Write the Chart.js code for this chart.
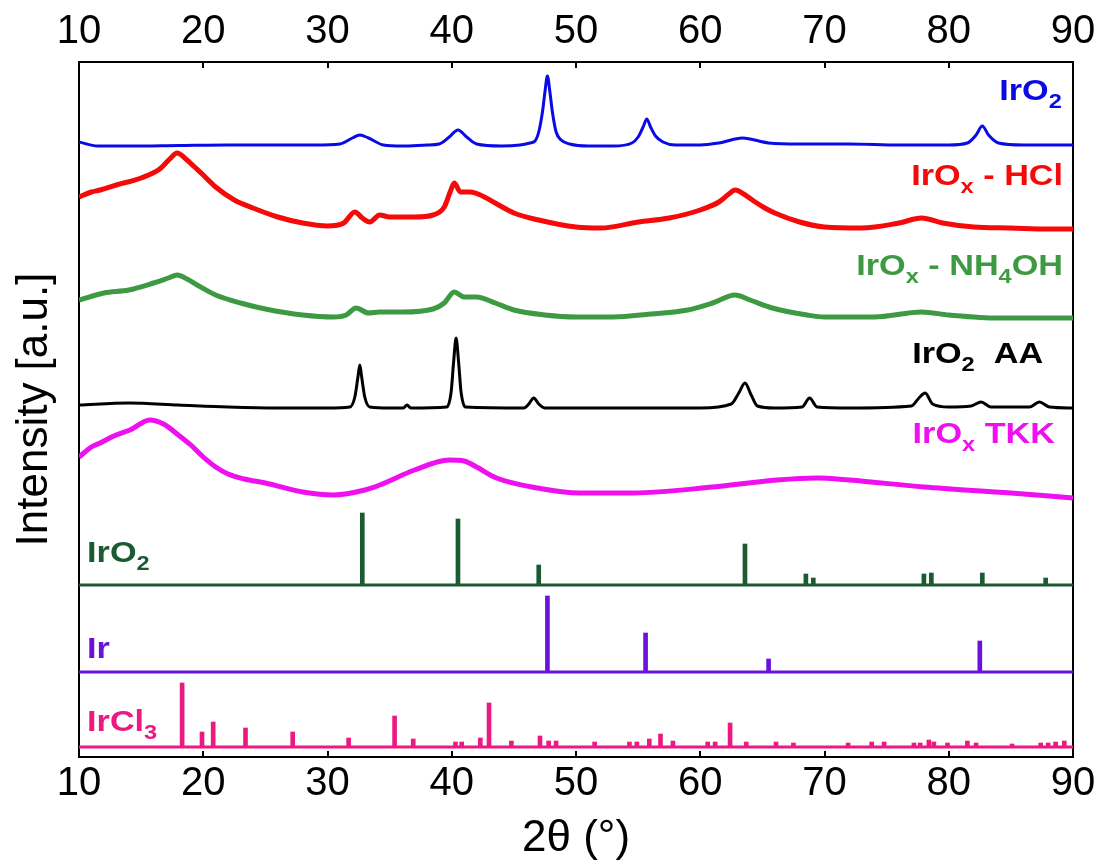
<!DOCTYPE html>
<html>
<head>
<meta charset="utf-8">
<script src="https://cdn.jsdelivr.net/npm/chart.js@4/dist/chart.umd.min.js"></script>
<style>
  html, body { margin: 0; padding: 0; background: #fff; }
  #wrap { width: 1104px; height: 865px; }
</style>
</head>
<body>
<div id="wrap"><canvas id="xrd" width="1104" height="865"></canvas></div>
<script>
const FONT = "'Liberation Sans', Arial, Helvetica, sans-serif";

const BLUE = '#0a0ae6';
const RED = '#f50a0a';
const GREEN = '#3e9a42';
const BLACK = '#000000';
const MAGENTA = '#ee10ee';
const DKGREEN = '#1c5a32';
const PURPLE = '#6a12dc';
const PINK = '#ec1a80';

// measured scans: [2theta, stacked intensity (a.u.)]
const irO2Scan = [[10, 615], [11.5, 611], [14, 611], [18, 611.5], [22, 612], [26, 612], [29, 612], [31, 613],
  [32, 619], [32.6, 622], [33.3, 619], [34.5, 612], [36, 611], [38, 612], [39, 613], [39.8, 620], [40.5, 627],
  [41.2, 620], [42, 613], [44, 611], [45.5, 612], [46.3, 614], [46.7, 616], [47.0, 625], [47.3, 645],
  [47.5, 665], [47.7, 681], [47.9, 665], [48.1, 645], [48.4, 625], [48.8, 617], [49.5, 613], [51, 611],
  [53, 611], [54.5, 614], [55.0, 620], [55.4, 630], [55.7, 638], [56.0, 630], [56.4, 621], [57, 615],
  [58, 612], [60, 612], [61.5, 614], [63.4, 619], [65.5, 614], [68, 613], [72, 613], [76, 612], [80, 612],
  [81.5, 614], [82.2, 622], [82.7, 631], [83.2, 622], [84, 614], [86, 612], [90, 612]];

const hclScan = [[10, 560], [11, 565], [11.7, 567], [13, 572], [15, 579], [16.5, 588], [17.3, 598], [17.9, 604],
  [18.6, 598], [19.3, 590], [20, 582], [21, 570], [22.5, 557], [24, 549], [26, 540], [28, 534], [30, 531],
  [31.3, 534], [32.2, 545], [32.8, 539], [33.4, 535], [34.2, 542], [35, 540], [37, 540], [38.5, 542],
  [39.4, 550], [39.9, 566], [40.2, 574], [40.7, 565], [41.5, 565], [42.3, 562], [43.5, 554], [45, 544],
  [47, 537], [50, 530], [52, 529], [55, 535], [57.5, 539], [60, 547], [61.5, 555], [62.3, 563], [62.8, 567],
  [63.5, 563], [64.3, 556], [65.2, 549], [66, 544], [68, 535], [70, 530], [73, 529], [76, 534], [77.8, 539],
  [79.5, 534], [82, 530], [85, 529], [88, 528], [90, 528]];

const nh4ohScan = [[10, 457], [12, 464], [14, 467], [16, 474], [17.2, 479], [17.9, 482], [18.7, 478], [19.5, 472],
  [21, 462], [23, 454], [25, 448], [28, 442], [30.5, 440], [31.5, 442], [32.3, 449], [33.3, 444], [34.2, 445],
  [36, 445], [38.5, 448], [39.4, 454], [40.2, 465], [41, 460], [42, 460], [43.5, 454], [45, 447], [47.5, 442],
  [50, 440], [53, 440], [56, 443], [59, 447], [61, 454], [62.8, 462], [64, 457], [65.8, 449], [68.6, 442],
  [70, 440], [74, 440], [77.8, 445], [80, 442], [84, 439], [90, 439]];

const aaScan = [[10, 352], [14, 354], [18, 352], [22, 350], [26, 349], [30, 349], [31.8, 350], [32.2, 360],
  [32.45, 380], [32.6, 392], [32.75, 380], [33.0, 360], [33.4, 350], [35, 349], [36.1, 349], [36.4, 352],
  [36.7, 349], [39.6, 350], [39.95, 365], [40.15, 395], [40.35, 419], [40.55, 395], [40.75, 365], [41.1, 350],
  [45.8, 349], [46.2, 353], [46.6, 359], [47.0, 353], [47.5, 349], [55, 349], [60, 349], [62.5, 353],
  [63.1, 364], [63.6, 374], [64.1, 362], [64.6, 351], [66, 349], [68.2, 350], [68.8, 359], [69.4, 350],
  [72, 349], [77.0, 351], [77.6, 359], [78.1, 364], [78.7, 353], [80, 350], [81.8, 351], [82.6, 355],
  [83.4, 350], [86.5, 350], [87.3, 355], [88.1, 350], [90, 349]];

const tkkScan = [[10, 300], [11, 310], [11.7, 314], [12.8, 321], [14.1, 327], [15.7, 337], [16.8, 333], [18, 322],
  [19, 312], [20, 300], [21, 290], [22, 283], [23.3, 278], [25, 274], [28, 265], [30.5, 262], [33, 267],
  [34.2, 272], [37, 287], [39.8, 297], [41, 296], [42, 290], [43.6, 279], [46.9, 269], [50.3, 264], [54.6, 264],
  [61, 270], [66.2, 277], [69.4, 279], [72, 277], [78, 270], [85, 264], [90, 259]];

// reference patterns: baseline offset, peak positions and heights
const refIrO2Base = 172;
const refIrO2Pos = [32.8, 40.5, 47.0, 63.6, 68.5, 69.1, 78.0, 78.6, 82.7, 87.8];
const refIrO2Height = [72, 66, 20, 41, 11, 7, 11, 12, 12, 7];

const refIrBase = 85;
const refIrPos = [47.7, 55.6, 65.5, 82.5];
const refIrHeight = [76, 39, 13, 31];

const refIrCl3Base = 10;
const refIrCl3Pos = [18.3, 19.9, 20.8, 23.4, 27.2, 31.7, 35.4, 36.9, 40.3, 40.8, 42.3, 43.0, 44.8, 47.1, 47.8,
  48.4, 51.5, 54.3, 54.9, 55.9, 56.8, 57.8, 60.6, 61.2, 62.4, 63.7, 66.1, 67.5, 71.9, 73.8, 74.8, 77.2, 77.7,
  78.4, 78.8, 79.9, 81.5, 82.2, 85.1, 87.4, 88.0, 88.6, 89.3];
const refIrCl3Height = [64, 15, 25, 19, 15, 9, 31, 8, 5, 5, 9, 44, 6, 11, 6,
  6, 5, 5, 5, 8, 13, 6, 5, 5, 24, 5, 5, 4, 4, 5, 5, 4, 4,
  7, 5, 4, 6, 4, 3, 4, 4, 5, 6];

const xTicks = [10, 20, 30, 40, 50, 60, 70, 80, 90];

// label text parts: [text, subscript?]
const seriesLabels = [
  { parts: [['IrO', false], ['2', true]], color: BLUE, x: 89.1, y: 657, align: 'right' },
  { parts: [['IrO', false], ['x', true], [' - HCl', false]], color: RED, x: 89.2, y: 572, align: 'right' },
  { parts: [['IrO', false], ['x', true], [' - NH', false], ['4', true], ['OH', false]], color: GREEN, x: 89.2, y: 482, align: 'right' },
  { parts: [['IrO', false], ['2', true], ['  AA', false]], color: BLACK, x: 87.6, y: 394, align: 'right' },
  { parts: [['IrO', false], ['x', true], [' TKK', false]], color: MAGENTA, x: 88.55, y: 314, align: 'right' },
  { parts: [['IrO', false], ['2', true]], color: DKGREEN, x: 10.65, y: 195, align: 'left' },
  { parts: [['Ir', false]], color: PURPLE, x: 10.65, y: 99, align: 'left' },
  { parts: [['IrCl', false], ['3', true]], color: PINK, x: 10.65, y: 26, align: 'left' }
];

const scanDataset = (scan, color, width) => ({
  type: 'line',
  data: scan.map(([x, y]) => ({ x, y })),
  borderColor: color,
  borderWidth: width,
  pointRadius: 0,
  fill: false,
  cubicInterpolationMode: 'monotone'
});

const baselineDataset = (base, color) => ({
  type: 'line',
  data: [{ x: xTicks[0], y: base }, { x: xTicks[xTicks.length - 1], y: base }],
  borderColor: color,
  borderWidth: 3,
  pointRadius: 0,
  fill: false
});

const stickDataset = (pos, heights, base, color) => ({
  type: 'bar',
  data: pos.map((p, i) => ({ x: p, y: [base, base + heights[i]] })),
  backgroundColor: color,
  borderWidth: 0,
  barThickness: 4,
  grouped: false
});

// inward tick marks on top and bottom axes
const innerTicks = {
  id: 'innerTicks',
  afterDraw(chart) {
    const { ctx, chartArea, scales } = chart;
    ctx.save();
    ctx.strokeStyle = '#000';
    ctx.lineWidth = 2;
    ctx.beginPath();
    xTicks.slice(1, -1).forEach(v => {
      const px = Math.round(scales.x.getPixelForValue(v));
      ctx.moveTo(px, chartArea.top);
      ctx.lineTo(px, chartArea.top + 6);
      ctx.moveTo(px, chartArea.bottom);
      ctx.lineTo(px, chartArea.bottom - 6);
    });
    ctx.stroke();
    ctx.restore();
  }
};

// sample names with subscripts
const curveLabels = {
  id: 'curveLabels',
  afterDatasetsDraw(chart) {
    const { ctx, scales } = chart;
    const mainFont = `bold 29px ${FONT}`;
    const subFont = `bold 20px ${FONT}`;
    ctx.save();
    ctx.textBaseline = 'alphabetic';
    ctx.textAlign = 'left';
    seriesLabels.forEach(lbl => {
      let total = 0;
      const widths = lbl.parts.map(([t, sub]) => {
        ctx.font = sub ? subFont : mainFont;
        const w = ctx.measureText(t).width;
        total += w;
        return w;
      });
      ctx.save();
      ctx.translate(scales.x.getPixelForValue(lbl.x), scales.y.getPixelForValue(lbl.y));
      ctx.scale(1.18, 1);
      ctx.fillStyle = lbl.color;
      let cx = lbl.align === 'right' ? -total : 0;
      lbl.parts.forEach(([t, sub], i) => {
        ctx.font = sub ? subFont : mainFont;
        ctx.fillText(t, cx, sub ? 8 : 0);
        cx += widths[i];
      });
      ctx.restore();
    });
    ctx.restore();
  }
};

const axisFont = { family: FONT, size: 40 };
const titleFont = { family: FONT, size: 44 };
const frame = { display: true, color: '#000', width: 2 };

new Chart(document.getElementById('xrd'), {
  type: 'line',
  data: {
    datasets: [
      scanDataset(irO2Scan, BLUE, 3),
      scanDataset(hclScan, RED, 5),
      scanDataset(nh4ohScan, GREEN, 5),
      scanDataset(aaScan, BLACK, 3),
      scanDataset(tkkScan, MAGENTA, 5),
      baselineDataset(refIrO2Base, DKGREEN),
      stickDataset(refIrO2Pos, refIrO2Height, refIrO2Base, DKGREEN),
      baselineDataset(refIrBase, PURPLE),
      stickDataset(refIrPos, refIrHeight, refIrBase, PURPLE),
      baselineDataset(refIrCl3Base, PINK),
      stickDataset(refIrCl3Pos, refIrCl3Height, refIrCl3Base, PINK)
    ]
  },
  options: {
    responsive: false,
    animation: false,
    events: [],
    layout: { padding: 0 },
    plugins: {
      legend: { display: false },
      tooltip: { enabled: false }
    },
    scales: {
      x: {
        type: 'linear',
        position: 'bottom',
        min: 10,
        max: 90,
        offset: false,
        ticks: { stepSize: 10, autoSkip: false, maxRotation: 0, color: '#000', font: axisFont, padding: 3 },
        grid: { display: false, drawTicks: false },
        border: frame,
        title: { display: true, text: '2θ (°)', color: '#000', font: titleFont, padding: { top: 0, bottom: 0 } },
        afterFit: s => { s.height = 108; }
      },
      x2: {
        type: 'linear',
        position: 'top',
        min: 10,
        max: 90,
        offset: false,
        ticks: { stepSize: 10, autoSkip: false, maxRotation: 0, color: '#000', font: axisFont, padding: 6 },
        grid: { display: false, drawTicks: false },
        border: frame,
        afterFit: s => { s.height = 62; }
      },
      y: {
        type: 'linear',
        position: 'left',
        min: 0,
        max: 695,
        ticks: { display: false },
        grid: { display: false, drawTicks: false },
        border: frame,
        title: { display: true, text: 'Intensity [a.u.]', color: '#000', font: titleFont, padding: { top: 8, bottom: 0 } },
        afterFit: s => { s.width = 79; }
      },
      y2: {
        type: 'linear',
        position: 'right',
        min: 0,
        max: 695,
        ticks: { display: false },
        grid: { display: false, drawTicks: false },
        border: frame,
        afterFit: s => { s.width = 31; }
      }
    }
  },
  plugins: [innerTicks, curveLabels]
});
</script>
</body>
</html>
